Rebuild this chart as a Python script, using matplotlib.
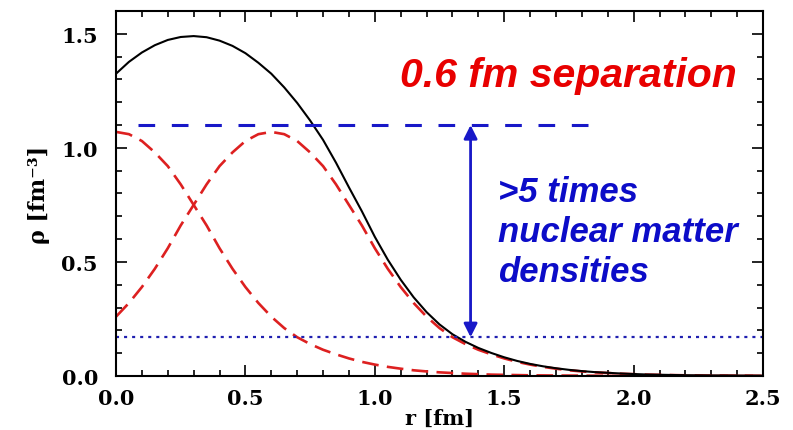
import matplotlib
matplotlib.use("Agg")
import matplotlib.pyplot as plt
from matplotlib.ticker import MultipleLocator

# Density profiles, r in fm, rho in fm^-3
r_vals = [0.00, 0.05, 0.10, 0.15, 0.20, 0.25, 0.30, 0.35, 0.40, 0.45,
          0.50, 0.55, 0.60, 0.65, 0.70, 0.75, 0.80, 0.85, 0.90, 0.95,
          1.00, 1.05, 1.10, 1.15, 1.20, 1.25, 1.30, 1.35, 1.40, 1.45,
          1.50, 1.55, 1.60, 1.65, 1.70, 1.75, 1.80, 1.85, 1.90, 1.95,
          2.00, 2.05, 2.10, 2.15, 2.20, 2.25, 2.30, 2.35, 2.40, 2.45, 2.50]

# nucleon at r = 0
rho_left = [1.07, 1.06, 1.03, 0.98, 0.92, 0.84, 0.75, 0.66, 0.56, 0.47,
            0.39, 0.32, 0.26, 0.21, 0.17, 0.14, 0.115, 0.095, 0.077, 0.062,
            0.050, 0.040, 0.032, 0.025, 0.020, 0.016, 0.013, 0.010, 0.008, 0.006,
            0.005, 0.004, 0.003, 0.0025, 0.002, 0.0018, 0.0015, 0.0012, 0.001, 0.0009,
            0.0007, 0.0006, 0.0005, 0.0004, 0.0004, 0.0003, 0.0003, 0.0003, 0.0002, 0.0002, 0.0002]

# nucleon at r = 0.6 fm
rho_right = [0.26, 0.32, 0.39, 0.47, 0.56, 0.66, 0.75, 0.84, 0.92, 0.98,
             1.03, 1.06, 1.07, 1.06, 1.03, 0.98, 0.92, 0.84, 0.75, 0.66,
             0.56, 0.47, 0.39, 0.32, 0.26, 0.21, 0.17, 0.14, 0.115, 0.095,
             0.077, 0.062, 0.050, 0.040, 0.032, 0.025, 0.020, 0.016, 0.013, 0.010,
             0.008, 0.006, 0.005, 0.004, 0.003, 0.0025, 0.002, 0.0018, 0.0015, 0.0012, 0.001]

# total density
rho_total = [1.325, 1.377, 1.418, 1.450, 1.473, 1.486, 1.490, 1.485, 1.470, 1.447,
             1.415, 1.373, 1.325, 1.265, 1.197, 1.12, 1.035, 0.935, 0.827, 0.722,
             0.61, 0.51, 0.422, 0.345, 0.28, 0.226, 0.183, 0.15, 0.123, 0.101,
             0.082, 0.066, 0.053, 0.0425, 0.034, 0.027, 0.0215, 0.017, 0.014, 0.011,
             0.0087, 0.0066, 0.0055, 0.0044, 0.0034, 0.0028, 0.0023, 0.0021, 0.0017, 0.0014, 0.0012]

peak_level = 1.1        # blue dashed line
nm_level = 0.17         # nuclear matter density (dotted)
peak_line_r = [0.085, 1.83]
arrow_r = 1.37

plt.rcParams['lines.scale_dashes'] = False

fig = plt.figure(figsize=(7.93, 4.31), dpi=100)
ax = fig.add_axes([0.1463, 0.1253, 0.8159, 0.8469])

red = '#dd2020'
blue = '#1818c8'

ax.plot(r_vals, rho_left, color=red, lw=1.9, ls=(0, (12, 6)))
ax.plot(r_vals, rho_right, color=red, lw=1.9, ls=(0, (12, 6)))
ax.plot(r_vals, rho_total, color='black', lw=1.5)

ax.plot(peak_line_r, [peak_level, peak_level], color=blue, lw=2.2, ls=(0, (12, 12)))
ax.axhline(nm_level, color='#2020b0', lw=1.6, ls=(0, (2.2, 3.6)))
ax.annotate('', xy=(arrow_r, peak_level), xytext=(arrow_r, nm_level),
            arrowprops=dict(arrowstyle='<|-|>', color=blue, lw=2.0,
                            mutation_scale=20, shrinkA=0, shrinkB=0))

ax.set_xlim(0, 2.5)
ax.set_ylim(0, 1.6)
ax.xaxis.set_major_locator(MultipleLocator(0.5))
ax.xaxis.set_minor_locator(MultipleLocator(0.1))
ax.yaxis.set_major_locator(MultipleLocator(0.5))
ax.yaxis.set_minor_locator(MultipleLocator(0.1))
ax.xaxis.set_major_formatter(matplotlib.ticker.FormatStrFormatter('%.1f'))
ax.yaxis.set_major_formatter(matplotlib.ticker.FormatStrFormatter('%.1f'))
ax.tick_params(which='both', direction='in', top=True, right=True, width=1.2)
ax.tick_params(which='major', length=8)
ax.tick_params(which='minor', length=4)
ax.tick_params(axis='x', which='major', pad=9)
ax.tick_params(axis='y', which='major', pad=13)
for s in ax.spines.values():
    s.set_linewidth(1.5)

serif = {'family': 'DejaVu Serif', 'weight': 'bold', 'size': 15}
for lab in ax.get_xticklabels() + ax.get_yticklabels():
    lab.set_fontproperties(matplotlib.font_manager.FontProperties(**serif))

# x label sits low, partly at the bottom edge like the original
ax.set_xlabel('r [fm]', fontdict={'family': 'DejaVu Serif', 'weight': 'bold', 'size': 15})
ax.xaxis.set_label_coords(0.5, -0.088)
ax.set_ylabel('ρ [fm⁻³]', fontdict={'family': 'DejaVu Serif', 'weight': 'bold', 'size': 16})
ax.yaxis.set_label_coords(-0.102, 0.5)

sans = dict(family='Liberation Sans', weight='bold', style='italic')
ax.text(0.439, 0.7945, '0.6 fm separation', transform=ax.transAxes, color='#e80000',
        fontsize=29.5, ha='left', va='baseline', **sans)
for txt, yy in [('>5 times', 0.480), ('nuclear matter', 0.371), ('densities', 0.261)]:
    ax.text(0.590, yy, txt, transform=ax.transAxes, color='#0c0cc8',
            fontsize=25, ha='left', va='baseline', **sans)

fig.savefig('out.png', dpi=100)
